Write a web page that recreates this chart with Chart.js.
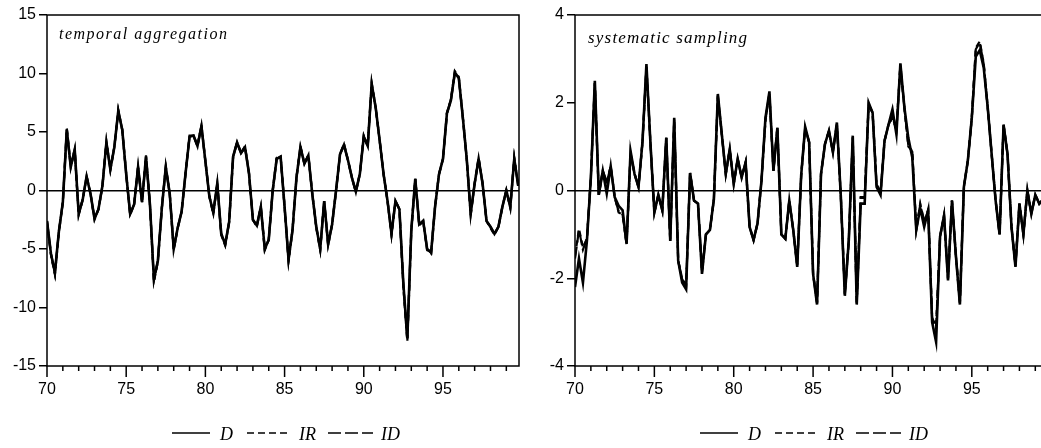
<!DOCTYPE html>
<html>
<head>
<meta charset="utf-8">
<script src="https://cdn.jsdelivr.net/npm/chart.js@4.4.1/dist/chart.umd.min.js"></script>
<style>
  html, body { margin: 0; padding: 0; background: #fff; overflow: hidden; width: 1041px; height: 448px; }
  .panel { position: absolute; top: 0; }
</style>
</head>
<body>
<div class="panel" style="left:0"><canvas id="aggChart" width="530" height="448"></canvas></div>
<div class="panel" style="left:520px"><canvas id="sampChart" width="540" height="448"></canvas></div>
<script>
// quarterly observations 1970Q1 .. 1999Q4
const yearTicks = [70, 75, 80, 85, 90, 95];

// temporal aggregation panel
const aggD = [
  -2.6, -5.4, -7.0, -3.5, -1.0, 5.2, 2.0, 3.5, -2.0, -0.8,
  1.2, -0.3, -2.4, -1.6, 0.4, 4.1, 1.8, 3.7, 6.8, 5.2,
  1.4, -2.0, -1.2, 2.0, -1.0, 2.9, -1.2, -7.6, -6.0, -1.5,
  2.0, -0.3, -5.0, -3.2, -1.8, 1.5, 4.6, 4.7, 3.8, 5.5,
  2.5, -0.5, -1.9, 0.6, -3.7, -4.6, -2.7, 2.9, 4.1, 3.2,
  3.7, 1.5, -2.5, -3.0, -1.4, -5.0, -4.2, 0.0, 2.7, 2.9,
  -1.4, -5.9, -3.4, 1.1, 3.7, 2.3, 3.0, -0.3, -3.1, -5.0,
  -0.9, -4.6, -2.9, 0.0, 3.1, 3.9, 2.6, 1.1, -0.1, 1.4,
  4.6, 3.8, 9.1, 7.1, 4.3, 1.4, -0.9, -3.7, -0.9, -1.6,
  -8.0, -12.6, -3.4, 1.0, -2.9, -2.6, -5.0, -5.3, -1.4, 1.4,
  2.7, 6.6, 7.7, 10.1, 9.6, 6.3, 2.7, -2.0, 0.6, 2.7,
  0.6, -2.6, -3.1, -3.7, -3.1, -1.4, 0.0, -1.4, 2.7, 0.4
];
const aggIR = [
  -2.7, -5.5, -7.2, -3.6, -1.0, 5.3, 2.1, 3.5, -2.1, -0.8,
  1.2, -0.3, -2.5, -1.6, 0.4, 4.2, 1.8, 3.7, 6.9, 5.2,
  1.4, -2.1, -1.2, 2.1, -1.0, 3.0, -1.2, -7.8, -6.1, -1.5,
  2.0, -0.3, -5.1, -3.2, -1.8, 1.5, 4.7, 4.7, 3.8, 5.6,
  2.5, -0.5, -2.0, 0.6, -3.8, -4.7, -2.7, 2.9, 4.1, 3.2,
  3.8, 1.5, -2.5, -3.1, -1.4, -5.1, -4.2, 0.0, 2.8, 2.9,
  -1.4, -6.0, -3.4, 1.1, 3.8, 2.3, 3.0, -0.3, -3.2, -5.1,
  -0.9, -4.7, -2.9, 0.0, 3.1, 4.0, 2.6, 1.1, -0.1, 1.4,
  4.7, 3.8, 9.2, 7.1, 4.3, 1.4, -0.9, -3.8, -0.9, -1.6,
  -8.3, -12.9, -3.5, 1.0, -3.0, -2.6, -5.1, -5.4, -1.4, 1.4,
  2.7, 6.6, 7.8, 10.2, 9.7, 6.3, 2.7, -2.1, 0.6, 2.8,
  0.6, -2.6, -3.2, -3.8, -3.1, -1.4, 0.0, -1.5, 2.8, 0.4
];
const aggID = [
  -2.6, -5.4, -7.1, -3.5, -1.0, 5.2, 2.0, 3.5, -2.0, -0.8,
  1.2, -0.3, -2.4, -1.6, 0.4, 4.1, 1.8, 3.7, 6.8, 5.2,
  1.4, -2.0, -1.2, 2.0, -1.0, 2.9, -1.2, -7.7, -6.0, -1.5,
  2.0, -0.3, -5.0, -3.2, -1.8, 1.5, 4.6, 4.7, 3.8, 5.5,
  2.5, -0.5, -1.9, 0.6, -3.7, -4.6, -2.7, 2.9, 4.1, 3.2,
  3.7, 1.5, -2.5, -3.0, -1.4, -5.0, -4.2, 0.0, 2.7, 2.9,
  -1.4, -5.9, -3.4, 1.1, 3.7, 2.3, 3.0, -0.3, -3.1, -5.0,
  -0.9, -4.6, -2.9, 0.0, 3.1, 3.9, 2.6, 1.1, -0.1, 1.4,
  4.6, 3.8, 9.0, 7.1, 4.3, 1.4, -0.9, -3.7, -0.9, -1.6,
  -8.1, -12.8, -3.4, 1.0, -2.9, -2.6, -5.0, -5.3, -1.4, 1.4,
  2.7, 6.6, 7.7, 10.0, 9.6, 6.3, 2.7, -2.0, 0.6, 2.7,
  0.6, -2.6, -3.1, -3.7, -3.1, -1.4, 0.0, -1.4, 2.7, 0.4
];

// systematic sampling panel
const sampD = [
  -2.2, -1.55, -2.1, -1.15, 0.3, 2.5, -0.1, 0.45, -0.07, 0.55,
  -0.15, -0.35, -0.45, -1.22, 0.9, 0.38, 0.08, 1.1, 2.88, 1.1,
  -0.5, -0.1, -0.45, 1.2, -1.15, 1.66, -1.6, -2.1, -2.25, 0.4,
  -0.23, -0.3, -1.9, -1.0, -0.9, -0.2, 2.2, 1.28, 0.38, 0.94,
  0.15, 0.72, 0.3, 0.64, -0.83, -1.13, -0.75, 0.23, 1.66, 2.26,
  0.45, 1.43, -1.0, -1.1, -0.23, -0.9, -1.74, 0.35, 1.45, 1.1,
  -1.9, -2.6, 0.38, 1.06, 1.36, 0.87, 1.55, -0.15, -2.4, -1.13,
  1.25, -2.6, -0.3, -0.3, 2.0, 1.77, 0.08, -0.1, 1.13, 1.5,
  1.85, 1.28, 2.9, 1.9, 1.2, 0.75, -0.9, -0.4, -0.83, -0.45,
  -3.0, -3.45, -1.05, -0.57, -2.05, -0.23, -1.5, -2.6, 0.08, 0.68,
  1.66, 3.05, 3.2, 2.8, 1.9, 0.83, -0.23, -1.0, 1.5, 0.83,
  -0.83, -1.74, -0.3, -1.0, 0.0, -0.53, -0.1, -0.3, -0.2, 0.1
];
const sampIR = [
  -1.5, -0.87, -1.3, -1.1, 0.3, 2.45, -0.1, 0.45, 0.2, 0.55,
  -0.15, -0.5, -0.55, -1.22, 0.85, 0.38, 0.08, 1.1, 2.8, 1.1,
  -0.5, -0.1, -0.45, 1.2, -1.15, 1.6, -1.6, -2.0, -2.15, 0.4,
  -0.23, -0.3, -1.85, -1.0, -0.9, -0.2, 2.15, 1.28, 0.38, 0.94,
  0.15, 0.72, 0.3, 0.64, -0.83, -1.13, -0.75, 0.23, 1.6, 2.2,
  0.45, 1.43, -1.0, -1.1, -0.23, -0.9, -1.7, 0.35, 1.4, 1.1,
  -1.9, -2.55, 0.38, 1.06, 1.36, 0.87, 1.5, -0.15, -2.35, -1.13,
  1.2, -2.55, -0.15, -0.15, 1.95, 1.77, 0.15, -0.05, 1.13, 1.5,
  1.65, 1.4, 2.85, 1.9, 1.0, 0.9, -0.9, -0.3, -0.7, -0.45,
  -2.9, -3.1, -1.05, -0.57, -2.0, -0.23, -1.5, -2.55, 0.08, 0.68,
  1.66, 3.25, 3.4, 2.9, 1.9, 0.83, -0.23, -1.0, 1.5, 0.83,
  -0.83, -1.7, -0.3, -1.0, 0.0, -0.53, -0.1, -0.3, -0.2, 0.1
];
const sampID = [
  -1.55, -0.9, -1.35, -1.1, 0.3, 2.45, -0.1, 0.45, 0.18, 0.55,
  -0.15, -0.48, -0.55, -1.22, 0.85, 0.38, 0.08, 1.1, 2.82, 1.1,
  -0.5, -0.1, -0.45, 1.2, -1.15, 1.62, -1.6, -2.02, -2.17, 0.4,
  -0.23, -0.3, -1.87, -1.0, -0.9, -0.2, 2.17, 1.28, 0.38, 0.94,
  0.15, 0.72, 0.3, 0.64, -0.83, -1.13, -0.75, 0.23, 1.62, 2.22,
  0.45, 1.43, -1.0, -1.1, -0.23, -0.9, -1.72, 0.35, 1.42, 1.1,
  -1.9, -2.57, 0.38, 1.06, 1.36, 0.87, 1.52, -0.15, -2.37, -1.13,
  1.22, -2.57, -0.17, -0.17, 1.97, 1.77, 0.13, -0.06, 1.13, 1.5,
  1.68, 1.38, 2.87, 1.9, 1.03, 0.88, -0.9, -0.32, -0.72, -0.45,
  -2.92, -3.15, -1.05, -0.57, -2.02, -0.23, -1.5, -2.57, 0.08, 0.68,
  1.66, 3.22, 3.37, 2.88, 1.9, 0.83, -0.23, -1.0, 1.5, 0.83,
  -0.83, -1.72, -0.3, -1.0, 0.0, -0.53, -0.1, -0.3, -0.2, 0.1
];

const quarters = aggD.map((_, i) => 70 + i / 4);
const toPoints = vals => vals.map((v, i) => ({ x: quarters[i], y: v }));

const legendItems = [
  { label: 'D', dash: [], x0: 125, x1: 163, tx: 173 },
  { label: 'IR', dash: [7, 4], x0: 200, x1: 241, tx: 252 },
  { label: 'ID', dash: [13, 4], x0: 281, x1: 326, tx: 334 },
];

const panelDecor = {
  id: 'panelDecor',
  afterDatasetsDraw(chart, args, opts) {
    const { ctx, chartArea: a, scales: { x } } = chart;
    ctx.save();
    ctx.strokeStyle = '#000';
    ctx.fillStyle = '#000';
    ctx.lineWidth = 1.5;
    ctx.strokeRect(a.left, a.top, a.right - a.left, a.bottom - a.top);

    // yearly ticks, longer every five years
    ctx.beginPath();
    for (let yr = 70; yr < 100; yr++) {
      const px = x.getPixelForValue(yr);
      const len = yr % 5 === 0 ? 11 : 5;
      ctx.moveTo(px, a.bottom);
      ctx.lineTo(px, a.bottom + len);
    }
    ctx.stroke();

    // panel title
    ctx.font = `italic ${opts.titleSize}px "Liberation Serif", "Times New Roman", serif`;
    ctx.letterSpacing = opts.spacing + 'px';
    ctx.textBaseline = 'alphabetic';
    ctx.fillText(opts.title, a.left + opts.titleX, opts.titleY);
    ctx.letterSpacing = '0px';

    // legend below the axis
    ctx.font = 'italic 18px "Liberation Serif", "Times New Roman", serif';
    ctx.lineWidth = 1.6;
    legendItems.forEach(it => {
      ctx.setLineDash(it.dash);
      ctx.beginPath();
      ctx.moveTo(a.left + it.x0, 433);
      ctx.lineTo(a.left + it.x1, 433);
      ctx.stroke();
      ctx.setLineDash([]);
      ctx.fillText(it.label, a.left + it.tx, 440);
    });
    ctx.restore();
  },
};

const tickFont = { family: '"Liberation Sans", Arial, sans-serif', size: 16 };

function makePanel(canvasId, cfg) {
  return new Chart(document.getElementById(canvasId), {
    type: 'line',
    data: {
      datasets: [
        { label: 'D', data: toPoints(cfg.d), borderColor: '#000', borderWidth: 2.6 },
        { label: 'IR', data: toPoints(cfg.ir), borderColor: '#000', borderWidth: 2.2, borderDash: [6, 4] },
        { label: 'ID', data: toPoints(cfg.id), borderColor: '#000', borderWidth: 2.2, borderDash: [12, 4] },
      ],
    },
    options: {
      responsive: false,
      animation: false,
      layout: { padding: { left: 0, right: cfg.padRight, top: 15, bottom: 0 } },
      elements: { point: { radius: 0 }, line: { tension: 0 } },
      plugins: {
        legend: { display: false },
        tooltip: { enabled: false },
        panelDecor: { title: cfg.title, titleSize: cfg.titleSize, spacing: cfg.spacing, titleX: cfg.titleX, titleY: cfg.titleY },
      },
      scales: {
        x: {
          type: 'linear',
          min: 70,
          max: 99.8,
          afterFit: s => { s.height = 82; },
          grid: { display: false, drawTicks: false },
          border: { display: false },
          ticks: {
            stepSize: 5,
            includeBounds: false,
            autoSkip: false,
            maxRotation: 0,
            padding: 14,
            color: '#000',
            font: tickFont,
            callback: v => (yearTicks.includes(v) ? String(v) : ''),
          },
        },
        y: {
          min: cfg.yMin,
          max: cfg.yMax,
          afterFit: s => { s.width = cfg.axisWidth; },
          border: { display: false },
          grid: {
            color: c => (c.tick && c.tick.value === 0 ? '#000' : 'rgba(0,0,0,0)'),
            tickColor: '#000',
            tickLength: 8,
            lineWidth: 1.5,
          },
          ticks: { stepSize: cfg.yStep, padding: 3, color: '#000', font: tickFont },
        },
      },
    },
    plugins: [panelDecor],
  });
}

makePanel('aggChart', {
  d: aggD, ir: aggIR, id: aggID,
  yMin: -15, yMax: 15, yStep: 5,
  axisWidth: 47, padRight: 11,
  title: 'temporal aggregation', titleSize: 16, spacing: 1.5, titleX: 12, titleY: 39,
});

makePanel('sampChart', {
  d: sampD, ir: sampIR, id: sampID,
  yMin: -4, yMax: 4, yStep: 2,
  axisWidth: 55, padRight: 12,
  title: 'systematic sampling', titleSize: 17, spacing: 1.2, titleX: 13, titleY: 43,
});
</script>
</body>
</html>
